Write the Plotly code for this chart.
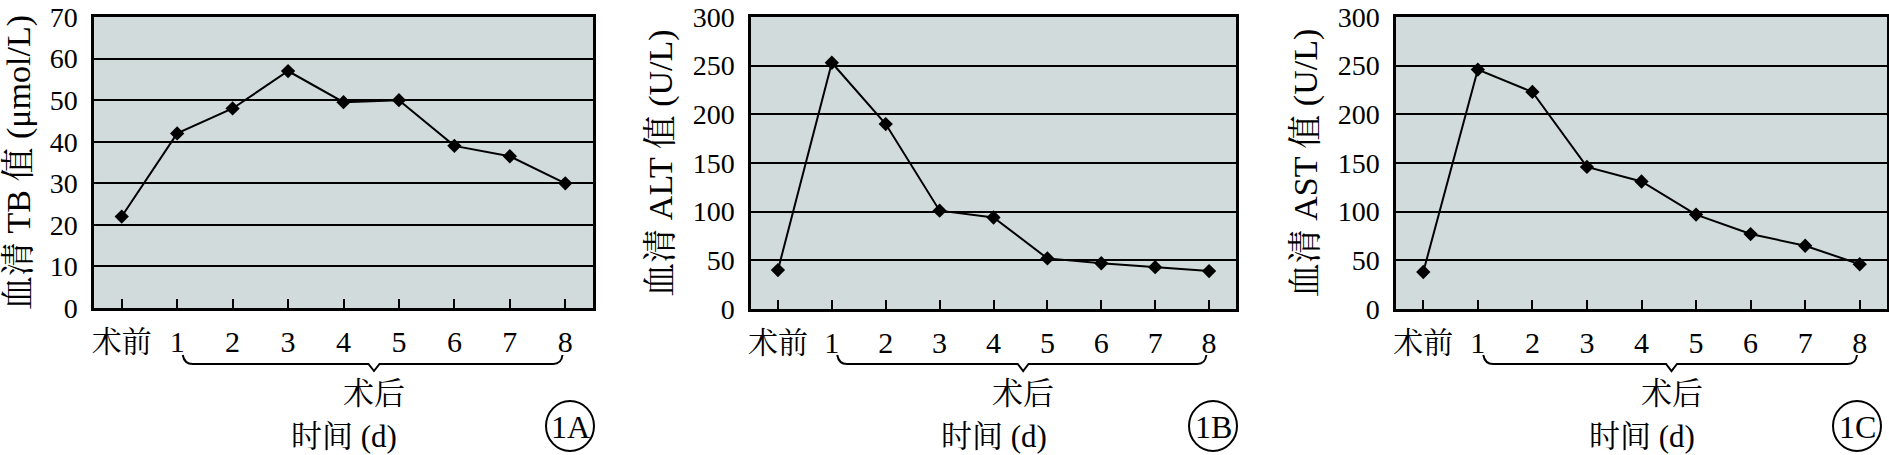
import plotly.graph_objects as go

categories = ['术前', '1', '2', '3', '4', '5', '6', '7', '8']
tb_values = [22, 42, 48, 57, 49.5, 50, 39, 36.5, 30]
alt_values = [40, 253, 190, 101, 94, 52, 47, 43, 39]
ast_values = [38, 246, 223, 146, 131, 97, 77, 65, 46]

y_titles = ['血清 TB 值 (μmol/L)', '血清 ALT 值 (U/L)', '血清 AST 值 (U/L)']
panel_labels = ['1A', '1B', '1C']
y_ranges = [[0, 70], [0, 300], [0, 300]]
y_dticks = [10, 50, 50]
after_label = '术后'
x_title = '时间 (d)'

W, H = 1889, 455
FONT = 'Liberation Serif, Noto Serif CJK SC, Noto Sans CJK SC, serif'
BG = '#D1DBDB'

# pixel layout of panels (left, right, top, bottom)
panels_px = [(94, 593, 17, 308), (751, 1236, 17, 309), (1396, 1887, 17, 309)]
circle_px = [(570, 426), (1213, 426), (1857, 426)]


def px_x(x):
    return x / W


def px_y(y):
    return 1 - y / H


fig = go.Figure()
xs = list(range(len(categories)))
series = [tb_values, alt_values, ast_values]
shapes = []
annotations = []

for i, vals in enumerate(series):
    sfx = '' if i == 0 else str(i + 1)
    fig.add_trace(go.Scatter(
        x=xs, y=vals, mode='lines+markers',
        line=dict(color='black', width=2),
        marker=dict(symbol='diamond', size=11, color='black'),
        xaxis='x' + sfx, yaxis='y' + sfx, showlegend=False,
        hoverinfo='skip'))
    l, r, t, b = panels_px[i]
    fig.layout['xaxis' + sfx] = dict(
        domain=[px_x(l), px_x(r)], anchor='y' + sfx, automargin=False,
        range=[-0.5, len(categories) - 0.5],
        tickmode='array', tickvals=xs, ticktext=categories,
        ticks='inside', ticklen=9, tickwidth=2, tickcolor='black',
        showline=True, mirror=True, linecolor='black', linewidth=2.5,
        showgrid=False, zeroline=False,
        tickfont=dict(family=FONT, size=30, color='black'),
        ticklabelstandoff=5,
    )
    fig.layout['yaxis' + sfx] = dict(
        domain=[px_y(b), px_y(t)], anchor='x' + sfx, automargin=False,
        range=y_ranges[i], dtick=y_dticks[i], tick0=0,
        showline=True, mirror=True, linecolor='black', linewidth=2.5,
        showgrid=True, gridcolor='black', gridwidth=2, zeroline=False,
        ticks='', ticklabeloverflow='allow',
        tickfont=dict(family=FONT, size=28, color='black'),
        ticklabelstandoff=8,
        title=dict(text=y_titles[i], font=dict(family=FONT, size=34, color='black'),
                   standoff=10),
    )
    # brace under post-operative days
    xr = 'x' + sfx
    y_end, y_line, y_tip = px_y(355), px_y(364), px_y(371)
    path = (f'M 1.1,{y_end} Q 1.13,{y_line} 1.28,{y_line} '
            f'L 4.45,{y_line} L 4.55,{y_tip} L 4.65,{y_line} '
            f'L 7.78,{y_line} Q 7.93,{y_line} 7.95,{y_end}')
    shapes.append(dict(type='path', path=path, xref=xr, yref='paper',
                       line=dict(color='black', width=2)))
    annotations.append(dict(text=after_label, x=4.55, y=px_y(393), xref=xr, yref='paper',
                            showarrow=False, xanchor='center', yanchor='middle',
                            font=dict(family=FONT, size=31, color='black')))
    annotations.append(dict(text=x_title, x=4.0, y=px_y(436), xref=xr, yref='paper',
                            showarrow=False, xanchor='center', yanchor='middle',
                            font=dict(family=FONT, size=31, color='black')))
    cx, cy = circle_px[i]
    shapes.append(dict(type='circle', xref='paper', yref='paper',
                       x0=px_x(cx - 24), x1=px_x(cx + 24),
                       y0=px_y(cy + 25), y1=px_y(cy - 25),
                       line=dict(color='black', width=2)))
    annotations.append(dict(text=panel_labels[i], x=px_x(cx), y=px_y(cy + 1),
                            xref='paper', yref='paper', showarrow=False,
                            xanchor='center', yanchor='middle',
                            font=dict(family=FONT, size=32, color='black')))

fig.update_layout(
    width=W, height=H,
    margin=dict(l=0, r=0, t=0, b=0, autoexpand=False),
    paper_bgcolor='white', plot_bgcolor=BG,
    shapes=shapes, annotations=annotations,
)

fig.write_html('out.html', config={'displayModeBar': False},
               post_script="document.body.style.margin='0';document.body.style.overflow='hidden';")
